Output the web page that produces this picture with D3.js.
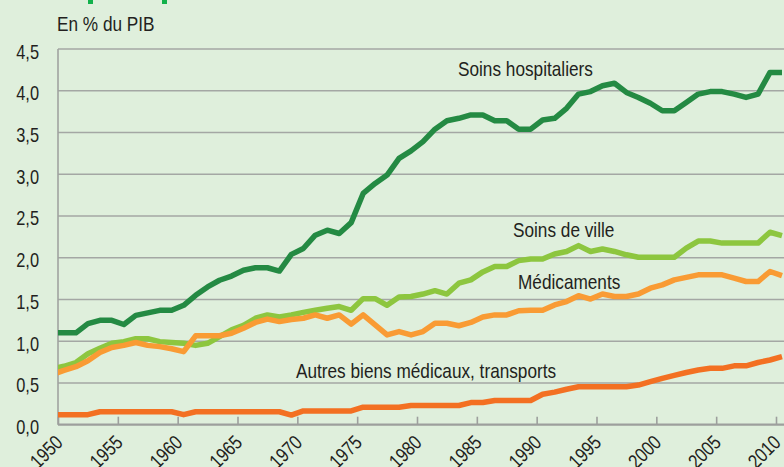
<!DOCTYPE html>
<html>
<head>
<meta charset="utf-8">
<script src="https://cdn.jsdelivr.net/npm/d3@7"></script>
<style>
html, body { margin: 0; padding: 0; background: #dfefdc; }
svg { display: block; }
</style>
</head>
<body>
<div id="chart"></div>
<script>
// data, share of GDP (%), 1950 -> 2011
var years = d3.range(1950, 2012);

var hospital = [
  1.10, 1.10, 1.10, 1.21, 1.25, 1.25, 1.20, 1.31, 1.34, 1.37,
  1.37, 1.43, 1.55, 1.65, 1.73, 1.78, 1.85, 1.88, 1.88, 1.84,
  2.04, 2.11, 2.27, 2.33, 2.29, 2.42, 2.77, 2.89, 2.99, 3.19,
  3.28, 3.39, 3.54, 3.64, 3.67, 3.71, 3.71, 3.64, 3.64, 3.54,
  3.54, 3.65, 3.67, 3.79, 3.96, 3.99, 4.06, 4.09, 3.98, 3.92,
  3.85, 3.76, 3.76, 3.86, 3.96, 3.99, 3.99, 3.96, 3.92, 3.96,
  4.22, 4.22
];
var ville = [
  0.67, 0.70, 0.745, 0.85, 0.915, 0.975, 0.995, 1.03, 1.03, 0.995,
  0.985, 0.975, 0.95, 0.975, 1.055, 1.135, 1.19, 1.275, 1.315, 1.29,
  1.315, 1.345, 1.37, 1.395, 1.415, 1.37, 1.51, 1.51, 1.43, 1.53,
  1.535, 1.565, 1.605, 1.565, 1.695, 1.735, 1.83, 1.895, 1.895, 1.965,
  1.985, 1.985, 2.045, 2.075, 2.145, 2.075, 2.105, 2.075, 2.035, 2.005,
  2.005, 2.005, 2.005, 2.115, 2.20, 2.20, 2.175, 2.175, 2.175, 2.175,
  2.305, 2.265
];
var medicaments = [
  0.60, 0.65, 0.695, 0.765, 0.865, 0.925, 0.95, 0.985, 0.95, 0.935,
  0.91, 0.875, 1.065, 1.065, 1.065, 1.095, 1.155, 1.225, 1.265, 1.235,
  1.26, 1.275, 1.315, 1.275, 1.315, 1.205, 1.315, 1.195, 1.075, 1.115,
  1.075, 1.115, 1.215, 1.215, 1.185, 1.225, 1.29, 1.315, 1.315, 1.365,
  1.37, 1.37, 1.435, 1.475, 1.545, 1.505, 1.565, 1.535, 1.535, 1.565,
  1.635, 1.675, 1.735, 1.765, 1.795, 1.795, 1.795, 1.755, 1.715, 1.715,
  1.835, 1.785
];
var autres = [
  0.12, 0.12, 0.12, 0.12, 0.155, 0.155, 0.155, 0.155, 0.155, 0.155,
  0.155, 0.12, 0.155, 0.155, 0.155, 0.155, 0.155, 0.155, 0.155, 0.155,
  0.115, 0.165, 0.165, 0.165, 0.165, 0.165, 0.21, 0.21, 0.21, 0.21,
  0.23, 0.23, 0.23, 0.23, 0.23, 0.265, 0.265, 0.29, 0.29, 0.29,
  0.29, 0.365, 0.39, 0.425, 0.455, 0.455, 0.455, 0.455, 0.455, 0.475,
  0.515, 0.555, 0.59, 0.625, 0.655, 0.675, 0.675, 0.705, 0.705, 0.745,
  0.775, 0.815
];

var yTicks = [0, 0.5, 1, 1.5, 2, 2.5, 3, 3.5, 4, 4.5];
var xTicks = d3.range(1950, 2011, 5);

var series = [
  {name: "Soins hospitaliers", values: hospital, color: "#248a43"},
  {name: "Soins de ville", values: ville, color: "#8dc63f"},
  {name: "Médicaments", values: medicaments, color: "#f99b34"},
  {name: "Autres biens médicaux, transports", values: autres, color: "#f37022"}
];

var width = 784, height = 467;
var plotLeft = 58, plotRight = 784, plotTop = 49, plotBottom = 424.7;

var svg = d3.select("#chart")
  .append("svg")
    .attr("width", width)
    .attr("height", height);

var fontFamily = "'Liberation Sans Narrow', 'Liberation Sans', Arial, sans-serif";

// check if a narrow font is really there, otherwise squeeze the normal one
var probe1 = svg.append("text").style("font-family", "'Liberation Sans Narrow', 'Liberation Sans'").style("font-size", "20px").text("Soins hospitaliers");
var probe2 = svg.append("text").style("font-family", "'Liberation Sans'").style("font-size", "20px").text("Soins hospitaliers");
var sx = probe1.node().getComputedTextLength() < 0.9 * probe2.node().getComputedTextLength() ? 1 : 0.82;
probe1.remove();
probe2.remove();

var x = d3.scaleLinear().domain([1950, 2010]).range([plotLeft, 776]);
var y = d3.scaleLinear().domain([0, 4.5]).range([plotBottom, plotTop]);
var fmt = d3.formatLocale({decimal: ",", thousands: " ", grouping: [3], currency: ["", "€"]}).format(".1f");

// text helper: places text at (px,py), squeezed horizontally if needed
function label(px, py, txt, size, anchor, rot) {
  var g = svg.append("g")
    .attr("transform", "translate(" + px + "," + py + ")" + (rot ? " rotate(" + rot + ")" : "") + " scale(" + sx + ",1)");
  g.append("text")
    .attr("text-anchor", anchor || "start")
    .style("font-family", fontFamily)
    .style("font-size", size + "px")
    .style("fill", "#231f20")
    .text(txt);
  return g;
}

// bits of the cut title at the top
svg.selectAll(".titlebit")
  .data([88, 162])
  .enter().append("rect")
    .attr("x", function(d) { return d; })
    .attr("y", 0)
    .attr("width", 5)
    .attr("height", 4)
    .style("fill", "#12b14b");

// grid lines
svg.append("g").selectAll("line")
  .data(yTicks.filter(function(d) { return d > 0; }))
  .enter().append("line")
    .attr("x1", plotLeft)
    .attr("x2", plotRight)
    .attr("y1", function(d) { return y(d); })
    .attr("y2", function(d) { return y(d); })
    .attr("stroke", "#a4a7a4")
    .attr("stroke-width", 1.6);

// y axis line
svg.append("line")
  .attr("x1", plotLeft).attr("x2", plotLeft)
  .attr("y1", y(4.5)).attr("y2", plotBottom)
  .attr("stroke", "#a0a3a0")
  .attr("stroke-width", 1.6);

// x axis
var xAxis = svg.append("g")
  .attr("transform", "translate(0," + plotBottom + ")")
  .call(d3.axisBottom(x).tickValues(xTicks).tickSizeInner(-8).tickSizeOuter(0).tickFormat(""));
xAxis.select(".domain").attr("d", "M" + plotLeft + ",0H" + plotRight).attr("stroke", "#9d9f9d").attr("stroke-width", 2.2);
xAxis.selectAll(".tick line").attr("stroke", "#9d9f9d").attr("stroke-width", 1.6);

// x tick labels, rotated
xTicks.forEach(function(t) {
  label(x(t) + 6, plotBottom + 19, String(t), 20, "end", -45);
});

// y tick labels
yTicks.forEach(function(t) {
  label(39, y(t) + 9.5, fmt(t), 20, "end");
});

label(57, 31, "En % du PIB", 21, "start");

// lines
svg.append("clipPath").attr("id", "plot")
  .append("rect")
    .attr("x", plotLeft)
    .attr("y", 0)
    .attr("width", plotRight - plotLeft)
    .attr("height", height);

var line = d3.line()
  .x(function(d, i) { return x(years[i] - 0.5); })
  .y(function(d) { return y(d); });

svg.append("g")
  .attr("clip-path", "url(#plot)")
  .selectAll("path")
  .data(series)
  .enter().append("path")
    .attr("d", function(d) { return line(d.values); })
    .attr("fill", "none")
    .attr("stroke", function(d) { return d.color; })
    .attr("stroke-width", 5.5)
    .attr("stroke-linejoin", "round");

// series names
label(458, 76, "Soins hospitaliers", 21, "start");
label(513, 237, "Soins de ville", 21, "start");
label(518, 289, "Médicaments", 21, "start");
label(296, 378, "Autres biens médicaux, transports", 21, "start");
</script>
</body>
</html>
